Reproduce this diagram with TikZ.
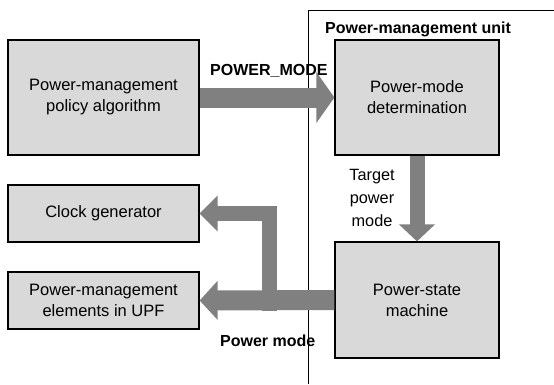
\documentclass[tikz,border=0pt]{standalone}
\usepackage{fontspec}
\setmainfont{Liberation Sans}
\usetikzlibrary{arrows.meta}
\definecolor{boxfill}{HTML}{D9D9D9}
\definecolor{arrowgray}{HTML}{808080}
\tikzset{
  blockbox/.style={draw=black, line width=1.2pt, fill=boxfill, align=center, inner sep=0pt,
    font=\fontsize{16.5}{21}\selectfont},
  fatarrow/.style={draw=arrowgray, line width=#1, line join=miter},
  lbl/.style={font=\fontsize{16}{19}\selectfont\bfseries, inner sep=0pt},
  plain/.style={font=\fontsize{16.3}{23}\selectfont, inner sep=0pt, align=center}
}
\begin{document}
\begin{tikzpicture}[x=1pt,y=-1pt]
\useasboundingbox (0,0) rectangle (554,384);
% unit frame
\draw[line width=1pt] (308,384) -- (308,10) -- (554,10);
% boxes
\node[blockbox, minimum width=191pt, minimum height=115pt] (policy) at (103.5,97.5) {Power-management\\policy algorithm};
\node[blockbox, minimum width=164pt, minimum height=115pt] (pmd) at (417,97.5) {Power-mode\\determination};
\node[blockbox, minimum width=191pt, minimum height=57pt] (clock) at (103.5,213.5) {Clock generator};
\node[blockbox, minimum width=191pt, minimum height=57pt] (upf) at (103.5,300.5) {Power-management\\elements in UPF};
\node[blockbox, minimum width=164pt, minimum height=116pt] (psm) at (417,300) {Power-state\\machine};
\coordinate (branch) at (269.5,300.5);
% arrows
\draw[fatarrow=20pt, -{Triangle[length=18pt,width=50pt]}] (policy.east) -- (pmd.west);
\draw[fatarrow=15pt, -{Triangle[length=17pt,width=35pt]}] (pmd.south) -- (psm.north);
\draw[fatarrow=20pt, -{Triangle[length=18pt,width=38pt]}] (psm.west) -- (upf.east);
\draw[fatarrow=15.5pt, -{Triangle[length=18pt,width=35pt]}] ([yshift=-10pt]branch) |- (clock.east);
% labels
\node[lbl, anchor=base west] (pmu) at (325,33) {Power-management unit};
\node[lbl, anchor=base west] (pmode) at (210,75) {POWER\_MODE};
\node[lbl, anchor=base west] (pm2) at (220,346) {Power mode};
\node[plain] (tpm) at (372,198) {Target\\power\\mode};
\end{tikzpicture}
\end{document}
